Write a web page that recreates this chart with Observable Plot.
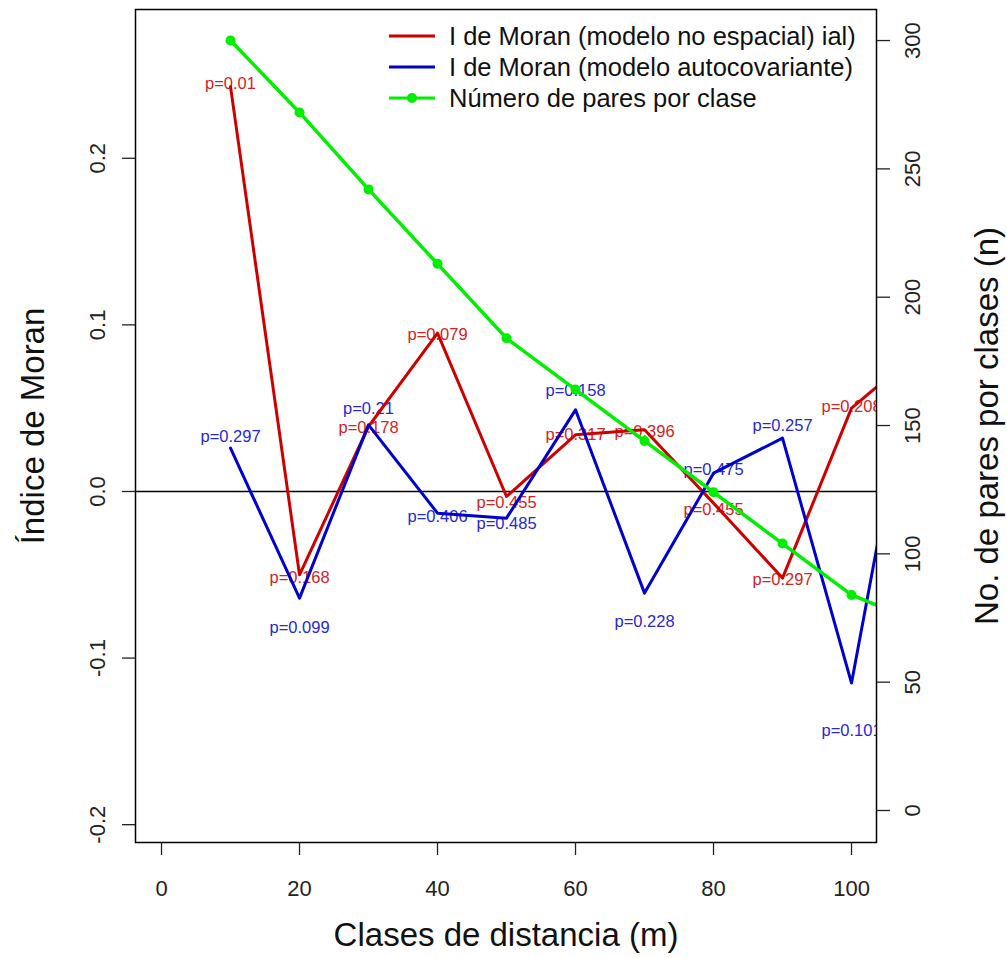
<!DOCTYPE html>
<html>
<head>
<meta charset="utf-8">
<script src="https://cdn.jsdelivr.net/npm/d3@7"></script>
<script src="https://cdn.jsdelivr.net/npm/@observablehq/plot@0.6"></script>
<style>
  html, body { margin: 0; padding: 0; background: #fff; }
  #chart { width: 1007px; height: 958px; }
</style>
</head>
<body>
<div id="chart"></div>
<script>
// Distance classes (m)
const distancias = [10, 20, 30, 40, 50, 60, 70, 80, 90, 100, 110];
// Moran's I, non-spatial model
const moranNoEspacial = [0.243, -0.050, 0.039, 0.095, -0.003, 0.034, 0.037, -0.007, -0.052, 0.050, 0.085];
// Moran's I, autocovariate model
const moranAutocov = [0.026, -0.064, 0.040, -0.013, -0.016, 0.049, -0.061, 0.011, 0.032, -0.115, 0.107];
// Number of pairs per distance class
const paresPorClase = [300, 272, 242, 213, 184, 164, 144, 124, 104, 84, 73];
// p-values printed next to each class
const pNoEspacial = ["p=0.01", "p=0.168", "p=0.178", "p=0.079", "p=0.455", "p=0.317", "p=0.396", "p=0.455", "p=0.297", "p=0.208"];
const pAutocov = ["p=0.297", "p=0.099", "p=0.21", "p=0.406", "p=0.485", "p=0.158", "p=0.228", "p=0.475", "p=0.257", "p=0.101"];
// Axis ticks
const xTicks = [0, 20, 40, 60, 80, 100];
const yTicksMoran = [-0.2, -0.1, 0.0, 0.1, 0.2];
const yTicksPares = [0, 50, 100, 150, 200, 250, 300];
// Legend entries
const leyenda = ["I de Moran (modelo no espacial) ial)", "I de Moran (modelo autocovariante)", "Número de pares por clase"];

// ---- layout & styling ----
const W = 1007, H = 958;
const mL = 135, mR = 131, mT = 9, mB = 116;
const xDomain = [-3.77, 103.62];
const yDomain = [-0.2107, 0.2893];
const paresDomain = [-12.47, 312.1];
const colRed = "#cd0000", colBlue = "#0000cd", colGreen = "#00ee00";
const txtRed = "#d02424", txtBlue = "#2828d0";
const font = "'Liberation Sans', Arial, sans-serif";
// vertical nudges of the p-value labels, in index units
const nudgeRed = [0.002, -0.002, -0.001, -0.001, -0.004, 0, -0.001, -0.004, -0.001, 0.001];
const nudgeBlue = [0.0066, -0.018, 0.0096, -0.0024, -0.0036, 0.0114, -0.0174, 0.0018, 0.0072, -0.0288];

// secondary (right) axis mapped onto the Moran index scale
const paresToMoran = d3.scaleLinear().domain(paresDomain).range(yDomain);

const serie = distancias.map((d, i) => ({
  d,
  red: moranNoEspacial[i],
  blue: moranAutocov[i],
  n: paresToMoran(paresPorClase[i])
}));
const etiquetasRed = pNoEspacial.map((t, i) => ({d: distancias[i], y: moranNoEspacial[i] + nudgeRed[i], t}));
const etiquetasBlue = pAutocov.map((t, i) => ({d: distancias[i], y: moranAutocov[i] + nudgeBlue[i], t}));
const puntosPares = serie.slice(0, 10);

const axisStyle = {fontSize: 22, fill: "#222", tickSize: 13, strokeWidth: 1.3, label: null};

const chart = Plot.plot({
  width: W, height: H,
  marginLeft: mL, marginRight: mR, marginTop: mT, marginBottom: mB,
  x: {domain: xDomain, label: null},
  y: {domain: yDomain, label: null},
  style: {fontFamily: font, fontSize: "22px", background: "#fff", color: "#222"},
  marks: [
    Plot.ruleY([0], {stroke: "#000", strokeWidth: 1.5}),
    Plot.text(etiquetasRed, {x: "d", y: "y", text: "t", fill: txtRed, fontSize: 16.5, clip: true}),
    Plot.text(etiquetasBlue, {x: "d", y: "y", text: "t", fill: txtBlue, fontSize: 16.5, clip: true}),
    Plot.line(serie, {x: "d", y: "red", stroke: colRed, strokeWidth: 3, clip: true}),
    Plot.line(serie, {x: "d", y: "blue", stroke: colBlue, strokeWidth: 3, clip: true}),
    Plot.line(serie, {x: "d", y: "n", stroke: colGreen, strokeWidth: 3.5, clip: true}),
    Plot.dot(puntosPares, {x: "d", y: "n", r: 5, fill: colGreen}),
    Plot.frame({stroke: "#000", strokeWidth: 1.5}),
    Plot.axisX(xTicks, {anchor: "bottom", ...axisStyle, tickPadding: 33, lineAnchor: "middle"}),
    Plot.axisY(yTicksMoran, {anchor: "left", ...axisStyle, tickRotate: -90, tickPadding: 25,
      lineAnchor: "middle", textAnchor: "middle", tickFormat: d => d.toFixed(1)}),
    Plot.axisY(yTicksPares.map(paresToMoran), {anchor: "right", ...axisStyle, tickRotate: -90, tickPadding: 23,
      lineAnchor: "middle", textAnchor: "middle", tickFormat: d => String(Math.round(paresToMoran.invert(d)))}),
    Plot.text(["Índice de Moran"], {frameAnchor: "left", dx: -102, rotate: -90, fontSize: 33, fill: "#111",
      textAnchor: "middle", lineAnchor: "middle"}),
    Plot.text(["No. de pares por clases (n)"], {frameAnchor: "right", dx: 111, rotate: -90, fontSize: 33, fill: "#111",
      textAnchor: "middle", lineAnchor: "middle"}),
    Plot.text(["Clases de distancia (m)"], {frameAnchor: "bottom", dy: 93, fontSize: 33, fill: "#111",
      textAnchor: "middle", lineAnchor: "middle"})
  ]
});

document.getElementById("chart").append(chart);

// legend in the top-right corner of the plotting region
const svg = d3.select(chart);
const leg = svg.append("g")
  .attr("font-family", font).attr("font-size", 25.5).attr("fill", "#111").attr("text-anchor", "start");
const legColors = [colRed, colBlue, colGreen];
leyenda.forEach((label, i) => {
  const y = 36 + i * 31;
  leg.append("line").attr("x1", 389).attr("x2", 435).attr("y1", y).attr("y2", y)
    .attr("stroke", legColors[i]).attr("stroke-width", 3);
  if (i === 2) leg.append("circle").attr("cx", 412).attr("cy", y).attr("r", 5).attr("fill", legColors[i]);
  leg.append("text").attr("x", 449).attr("y", y).attr("dy", "0.35em").text(label);
});
</script>
</body>
</html>
